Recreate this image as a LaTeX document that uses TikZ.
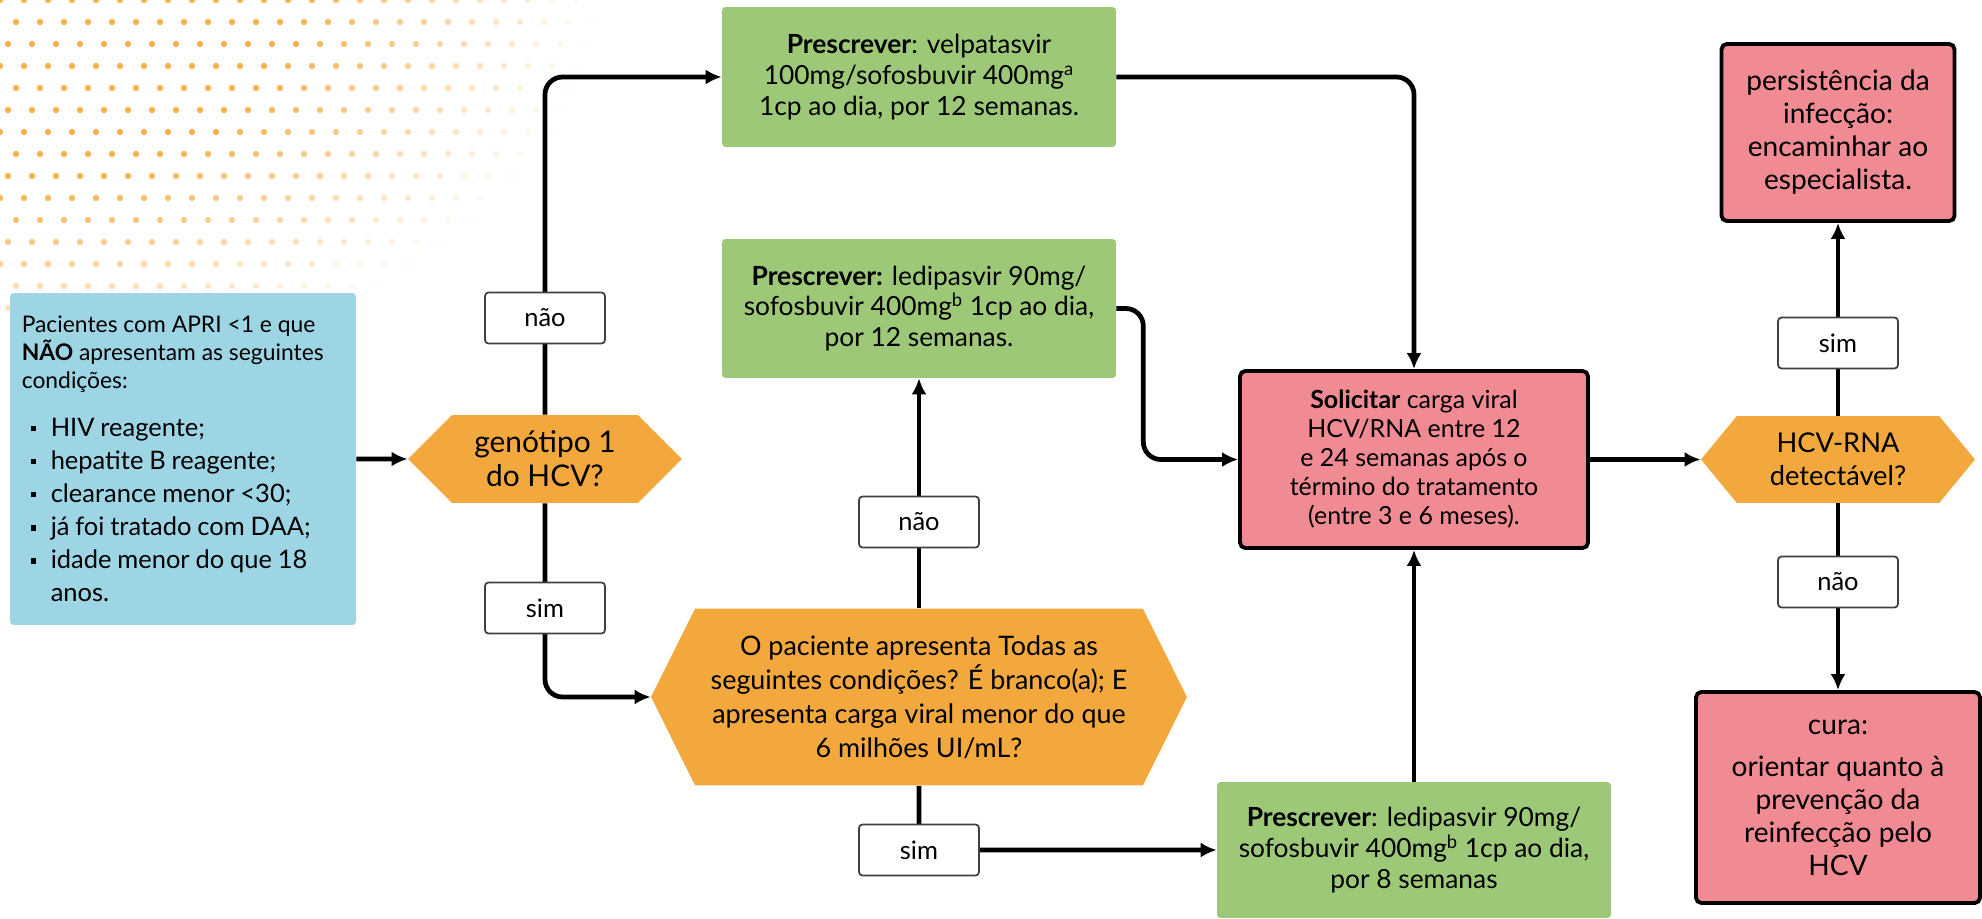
\documentclass[tikz,border=0pt]{standalone}
\usepackage{fontspec}
\setmainfont{Lato}
\usetikzlibrary{arrows.meta,shapes.symbols}

\definecolor{boxblue}{RGB}{157,213,229}
\definecolor{boxgreen}{RGB}{157,200,120}
\definecolor{boxorange}{RGB}{243,168,61}
\definecolor{boxred}{RGB}{240,138,147}
\definecolor{dotorange}{RGB}{250,178,80}

\newcommand{\bul}{\hspace*{0.18cm}\rule[0.1cm]{0.11cm}{0.11cm}\hspace*{0.29cm}}

\begin{document}
\begin{tikzpicture}[
    x=0.02cm, y=-0.02cm,
    block/.style={rectangle, rounded corners=2pt, fill=boxgreen, align=center, minimum width=7.88cm, font=\fontsize{15}{17.5}\selectfont},
    redblock/.style={rectangle, rounded corners=3pt, draw=black, fill=boxred, line width=2.2pt, align=center},
    decision/.style={shape=signal, signal to=east and west, fill=boxorange, align=center, inner sep=0pt},
    answer/.style={rectangle, rounded corners=2pt, draw=black!75, fill=white, line width=1pt, minimum width=2.4cm, minimum height=1.02cm, font=\fontsize{14.5}{16}\selectfont},
    line/.style={draw, -{Latex[length=0.32cm, width=0.3cm]}, line width=2.7pt, rounded corners=0.35cm}
]
\useasboundingbox (0,0) rectangle (1982,919);

% background dots
\foreach \i in {0,...,26} {
  \foreach \j in {0,...,14} {
    \pgfmathsetmacro\dx{\i*24 - \j*8}
    \pgfmathsetmacro\dy{\j*22}
    \pgfmathsetmacro\op{max(0,min(1,(600-veclen(\dx,1.6*\dy))/300))}
    \ifdim\op pt>0.02pt
      \fill[dotorange, opacity=\op] (\dx,\dy) circle (3.2);
    \fi
  }
}

% Define nodes
\node[rectangle, rounded corners=2pt, fill=boxblue, minimum width=6.92cm, minimum height=6.64cm, text width=6.45cm, align=left] (pac) at (183,459) {%
{\fontsize{13}{15.8}\selectfont Pacientes com APRI <1 e que\\ \textbf{NÃO} apresentam as seguintes\\ condições:\par}
\vspace{0.3cm}
{\fontsize{14.5}{18.8}\selectfont \bul HIV reagente;\\ \bul hepatite B reagente;\\ \bul clearance menor <30;\\ \bul já foi tratado com DAA;\\ \bul idade menor do que 18\\ \hspace*{0.58cm}anos.\par}};
\node[decision, signal pointer angle=90, minimum width=5.48cm, minimum height=1.76cm, font=\fontsize{17}{19.5}\selectfont] (gen) at (545,459) {genótipo 1\\do HCV?};
\node[block, minimum height=2.8cm] (vel) at (919,77) {\textbf{Prescrever}: velpatasvir\\100mg/sofosbuvir 400mg\textsuperscript{a}\\1cp ao dia, por 12 semanas.};
\node[block, minimum height=2.78cm] (led12) at (919,308.5) {\textbf{Prescrever:} ledipasvir 90mg/\\sofosbuvir 400mg\textsuperscript{b} 1cp ao dia,\\por 12 semanas.};
\node[decision, signal pointer angle=127, minimum width=10.72cm, minimum height=3.54cm, font=\fontsize{15.3}{19.4}\selectfont] (cond) at (919,697) {O paciente apresenta Todas as\\seguintes condições? É branco(a); E\\apresenta carga viral menor do que\\6 milhões UI/mL?};
\node[block, minimum height=2.72cm] (led8) at (1414,850) {\textbf{Prescrever}: ledipasvir 90mg/\\sofosbuvir 400mg\textsuperscript{b} 1cp ao dia,\\por 8 semanas};
\node[redblock, minimum width=6.96cm, minimum height=3.54cm, font=\fontsize{14.2}{16.5}\selectfont] (sol) at (1414,459.5) {\textbf{Solicitar} carga viral\\HCV/RNA entre 12\\e 24 semanas após o\\término do tratamento\\(entre 3 e 6 meses).};
\node[decision, signal pointer angle=101, minimum width=5.48cm, minimum height=1.74cm, font=\fontsize{15.5}{19}\selectfont] (rna) at (1838,459.5) {HCV-RNA\\detectável?};
\node[redblock, minimum width=4.66cm, minimum height=3.54cm, font=\fontsize{16}{18.8}\selectfont] (pers) at (1838,132.5) {persistência da\\infecção:\\encaminhar ao\\especialista.};
\node[redblock, minimum width=5.68cm, minimum height=4.22cm, font=\fontsize{16}{18.8}\selectfont] (cura) at (1838,797.5) {cura:\\[5pt]orientar quanto à\\prevenção da\\reinfecção pelo\\HCV};

% Connect nodes
\draw[line] (pac) -- (gen);
\draw[line] (gen.north) |- (vel.west);
\draw[line] (gen.south) |- (cond.west);
\draw[line] (cond.north) -- (led12.south);
\draw[line] (cond.south) |- (led8.west);
\draw[line] (vel.east) -| (sol.north);
\draw[line] (led12.east) -- ++(27,0) |- (sol.west);
\draw[line] (led8.north) -- (sol.south);
\draw[line] (sol) -- (rna);
\draw[line] (rna.north) -- (pers.south);
\draw[line] (rna.south) -- (cura.north);

% Answers
\node[answer] (nao1) at (545,318) {não};
\node[answer] (sim1) at (545,608) {sim};
\node[answer] (nao2) at (919,522) {não};
\node[answer] (sim2) at (919,850) {sim};
\node[answer] (sim3) at (1838,343) {sim};
\node[answer] (nao3) at (1838,582) {não};

\end{tikzpicture}
\end{document}
